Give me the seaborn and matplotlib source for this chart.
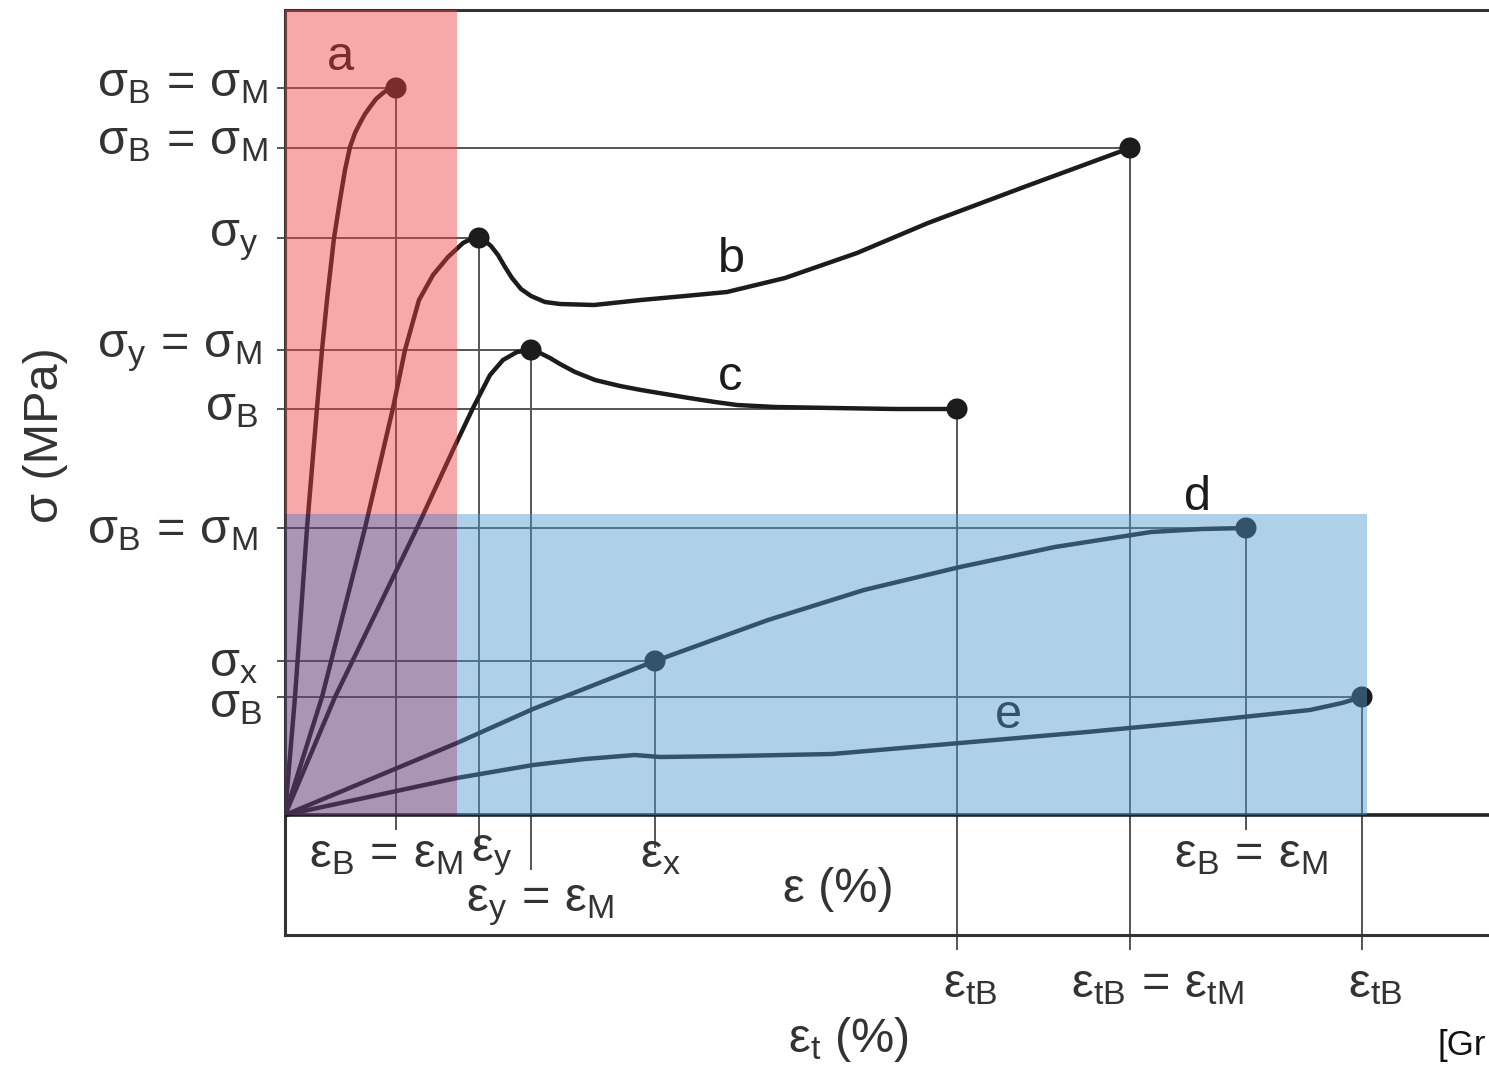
import matplotlib
matplotlib.use("Agg")
import matplotlib.pyplot as plt
import matplotlib.patches as mpatches
import numpy as np
import pandas as pd
import seaborn as sns

# ---------------- data (schematic units: strain -> x, stress -> y) ----------------
a_x = [0, 10, 22, 32, 37, 42, 49, 55, 60, 65, 70, 75, 80, 85, 91, 98, 104, 111]
a_y = [0, 118, 287, 407, 465, 515, 577, 615, 645, 668, 682, 692, 701, 708, 716, 722, 726, 727]

b_x = [0, 37, 80, 108, 120, 134, 148, 163, 178, 186, 194, 200, 206, 213, 220, 227, 236, 246, 260, 275,
       309, 356, 400, 442, 500, 572, 643, 739, 845]
b_y = [0, 118, 287, 407, 465, 515, 540, 558, 572, 576, 577, 574, 569, 560, 548, 537, 526, 519, 513, 511,
       510, 515, 519, 523, 537, 562, 592, 628, 667]

c_x = [0, 50, 132, 168, 188, 205, 218, 232, 246, 255, 265, 275, 290, 310, 335, 356, 380, 404, 430, 452,
       490, 548, 610, 672]
c_y = [0, 118, 287, 365, 407, 440, 455, 463, 465, 462, 457, 451, 443, 435, 429, 425, 421, 417, 413, 410,
       408, 407, 406, 406]

d_x = [0, 172, 248, 370, 483, 579, 675, 770, 866, 917, 961]
d_y = [0, 72, 106, 154, 195, 225, 248, 268, 283, 286, 287]

e_x = [0, 172, 248, 300, 350, 375, 450, 547, 675, 802, 929, 1025, 1057, 1077]
e_y = [0, 37, 50, 56, 60, 58, 59, 61, 72, 83, 95, 105, 112, 118]

# characteristic points (marker positions)
pt_x = [111, 194, 845, 246, 672, 370, 961, 1077]
pt_y = [727, 577, 667, 465, 406, 154, 287, 118]
# how far below the ε-axis each vertical guide reaches
pt_drop = [-15, -33, -135, -55, -135, -33, -15, -135]

ytick_vals = [727, 667, 577, 465, 406, 287, 154, 118]
ytick_labels = [r"$\mathregular{σ_B\,=\,σ_M}$", r"$\mathregular{σ_B\,=\,σ_M}$", r"$\mathregular{σ_y}$",
                r"$\mathregular{σ_y\,=\,σ_M}$", r"$\mathregular{σ_B}$", r"$\mathregular{σ_B\,=\,σ_M}$",
                r"$\mathregular{σ_x}$", r"$\mathregular{σ_B}$"]
ytick_lab_x = [-17, -17, -27, -23, -27, -27, -27, -23]
ytick_lab_y = [731, 673, 575, 464, 407, 284, 151, 110]

eps_labels = [r"$\mathregular{ε_B\,=\,ε_M}$", r"$\mathregular{ε_y}$", r"$\mathregular{ε_y\,=\,ε_M}$",
              r"$\mathregular{ε_x}$", "ε (%)", r"$\mathregular{ε_B\,=\,ε_M}$"]
eps_lab_x = [101, 207, 255, 375, 553, 966]
eps_lab_y = [-40, -40, -90, -40, -75, -40]

epst_labels = [r"$\mathregular{ε_{tB}}$", r"$\mathregular{ε_{tB}\,=\,ε_{tM}}$", r"$\mathregular{ε_{tB}}$",
               r"$\mathregular{ε_t}$ (%)"]
epst_lab_x = [685, 872, 1090, 563]
epst_lab_y = [-170, -170, -170, -225]

curve_names = ["a", "b", "c", "d", "e"]
curve_lab_x = [55, 446, 445, 913, 723]
curve_lab_y = [758, 555, 438, 318, 99]

# ---------------- styling ----------------
sns.set_theme(style="white")
plt.rcParams["font.family"] = ["Liberation Sans", "DejaVu Sans"]
plt.rcParams["mathtext.fontset"] = "custom"
plt.rcParams["mathtext.rm"] = "Liberation Sans"
plt.rcParams["mathtext.it"] = "Liberation Sans"
plt.rcParams["mathtext.bf"] = "Liberation Sans:bold"

FS = 35
TXT = "#333333"
W, H = 1489, 1066
fig = plt.figure(figsize=(W / 100, H / 100), dpi=100)
ax = fig.add_axes([285 / W, (H - 935) / H, (W - 285) / W, (935 - 10) / H])
ax.set_xlim(0, 1204)
ax.set_ylim(-120, 805)
ax.set_facecolor("white")

for s in ["top", "left", "bottom"]:
    ax.spines[s].set_color("#333333")
    ax.spines[s].set_linewidth(2.2)
ax.spines["right"].set_visible(False)

# guide lines
gray = "#555555"
ax.hlines(pt_y, 0, pt_x, color=gray, lw=1.4, zorder=2, clip_on=False)
ax.vlines(pt_x, pt_drop, pt_y, color=gray, lw=1.4, zorder=2, clip_on=False)
# strain axis
ax.axhline(0, color="#222222", lw=2.6, zorder=3)

# curves
curves = [(a_x, a_y), (b_x, b_y), (c_x, c_y), (d_x, d_y), (e_x, e_y)]
for (cx, cy), name in zip(curves, curve_names):
    df = pd.DataFrame({"strain": cx, "stress": cy})
    sns.lineplot(data=df, x="strain", y="stress", sort=False, estimator=None, ax=ax,
                 color="#1c1c1c", lw=3.2, solid_joinstyle="round", solid_capstyle="round",
                 zorder=4)
sns.scatterplot(x=pt_x, y=pt_y, ax=ax, color="#1c1c1c", s=230, edgecolor="none", zorder=5)

for name, x, y in zip(curve_names, curve_lab_x, curve_lab_y):
    ax.text(x, y, name, fontsize=FS, ha="center", va="center", color="#1c1c1c", zorder=4)

# coloured overlays (tint everything underneath)
ax.add_patch(mpatches.Rectangle((0, 301), 172, 504, facecolor=(239/255, 62/255, 62/255),
                                alpha=0.45, edgecolor="none", zorder=10))
ax.add_patch(mpatches.Rectangle((172, 0), 910, 301, facecolor=(77/255, 151/255, 204/255),
                                alpha=0.45, edgecolor="none", zorder=10))
ax.add_patch(mpatches.Rectangle((0, 0), 172, 301, facecolor=(100/255, 64/255, 119/255),
                                alpha=0.55, edgecolor="none", zorder=10))

# axes ticks / labels
ax.set_xticks([])
ax.set_yticks(ytick_vals, [""] * len(ytick_vals))
ax.tick_params(axis="y", left=True, length=6, width=1.4, color=gray, pad=5)
ax.set_xlabel("")
ax.set_ylabel("")

for lab, x, y in zip(ytick_labels, ytick_lab_x, ytick_lab_y):
    ax.text(x, y, lab, fontsize=FS, ha="right", va="center", color=TXT, clip_on=False)
for lab, x, y in zip(eps_labels, eps_lab_x, eps_lab_y):
    ax.text(x, y, lab, fontsize=FS, ha="center", va="center", color=TXT, clip_on=False)
for lab, x, y in zip(epst_labels, epst_lab_x, epst_lab_y):
    ax.text(x, y, lab, fontsize=FS, ha="center", va="center", color=TXT, clip_on=False)

fig.text(45 / W, 1 - 435 / H, "σ (MPa)", rotation=90, fontsize=FS, ha="center", va="center",
         color=TXT)
fig.text(1437 / W, 1 - 1045 / H, "[Gr", fontsize=25, ha="left", va="center", color="#111111")

fig.savefig("out.png", dpi=100, facecolor="white")
